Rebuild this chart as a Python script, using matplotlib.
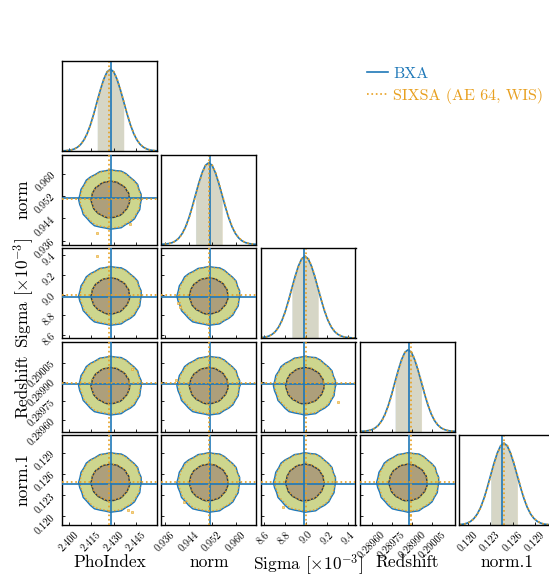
import numpy as np
import matplotlib.pyplot as plt
from matplotlib.lines import Line2D

plt.rcParams['font.family'] = 'serif'
plt.rcParams['font.serif'] = ['cmr10']
plt.rcParams['mathtext.fontset'] = 'cm'
plt.rcParams['axes.formatter.use_mathtext'] = True

# parameters of the fit
labels = ['PhoIndex', 'norm', r'Sigma [$\times10^{-3}$]', 'Redshift', 'norm.1']
ylabel_x = [-0.337, -0.337, -0.27, -0.337, -0.337]
xlabel_y = [-0.33, -0.33, -0.30, -0.33, -0.33]
# centres of the posterior clouds
bxa_center = [2.4278, 0.9508, 8.990, 0.289870, 0.12482]
sixsa_center = [2.4279, 0.9509, 8.992, 0.289872, 0.12486]
sigma = [0.0089, 0.00452, 0.124, 0.0000973, 0.00179]
# reference values marked by the cross-hairs
bxa_truth = [2.4282, 0.9512, 8.982, 0.28988, 0.12457]
sixsa_truth = [2.4267, 0.9508, 9.000, 0.28989, 0.12484]
ranges = [(2.3953, 2.4591), (0.93464, 0.96695), (8.571, 9.467),
          (0.289512, 0.290215), (0.11879, 0.13155)]
ticks = [[2.400, 2.415, 2.430, 2.445],
         [0.936, 0.944, 0.952, 0.960],
         [8.6, 8.8, 9.0, 9.2, 9.4],
         [0.28960, 0.28975, 0.28990, 0.29005],
         [0.120, 0.123, 0.126, 0.129]]
tick_labels = [['2.400', '2.415', '2.430', '2.445'],
               ['0.936', '0.944', '0.952', '0.960'],
               ['8.6', '8.8', '9.0', '9.2', '9.4'],
               ['0.28960', '0.28975', '0.28990', '0.29005'],
               ['0.120', '0.123', '0.126', '0.129']]

# 1D marginal (relative to peak) vs offset from the centre in units of sigma
z_grid = np.arange(-4.0, 4.01, 0.25)
profile = [0.0003, 0.0009, 0.003, 0.006, 0.012, 0.023, 0.044, 0.079, 0.134,
           0.214, 0.323, 0.457, 0.606, 0.751, 0.878, 0.968, 1.0, 0.968, 0.877,
           0.750, 0.605, 0.458, 0.325, 0.216, 0.135, 0.080, 0.045, 0.024,
           0.012, 0.006, 0.003, 0.0009, 0.0003]

# 2D credible contours: radius (in sigma) every 10 degrees
bxa_outer = [2.33, 2.36, 2.30, 2.38, 2.34, 2.31, 2.37, 2.40, 2.33, 2.36, 2.31, 2.35,
             2.29, 2.34, 2.38, 2.31, 2.36, 2.33, 2.40, 2.35, 2.30, 2.37, 2.32, 2.36,
             2.41, 2.33, 2.30, 2.36, 2.34, 2.39, 2.31, 2.35, 2.38, 2.32, 2.36, 2.30]
sixsa_outer = [2.27, 2.30, 2.25, 2.31, 2.28, 2.26, 2.30, 2.33, 2.27, 2.30, 2.26, 2.29,
               2.24, 2.28, 2.31, 2.26, 2.29, 2.27, 2.33, 2.29, 2.25, 2.31, 2.26, 2.29,
               2.34, 2.27, 2.25, 2.29, 2.28, 2.32, 2.26, 2.29, 2.31, 2.26, 2.29, 2.25]
bxa_inner = [1.45, 1.43, 1.47, 1.42, 1.46, 1.44, 1.41, 1.46, 1.43, 1.47, 1.42, 1.45,
             1.44, 1.41, 1.46, 1.43, 1.45, 1.42, 1.47, 1.44, 1.42, 1.46, 1.43, 1.45,
             1.41, 1.44, 1.47, 1.43, 1.45, 1.42, 1.46, 1.44, 1.41, 1.45, 1.43, 1.46]
sixsa_inner = [1.44, 1.43, 1.46, 1.42, 1.45, 1.44, 1.42, 1.45, 1.43, 1.46, 1.42, 1.44,
               1.44, 1.42, 1.45, 1.43, 1.44, 1.42, 1.46, 1.44, 1.42, 1.45, 1.43, 1.44,
               1.42, 1.44, 1.46, 1.43, 1.44, 1.42, 1.45, 1.44, 1.42, 1.44, 1.43, 1.45]

# isolated SIXSA islands outside the outer contour, (row, col, dx, dy) in sigma
speck_row = [1, 1, 2, 2, 3, 3, 4, 4, 4, 2, 3, 4, 4]
speck_col = [0, 0, 0, 1, 0, 2, 0, 0, 1, 1, 1, 2, 3]
speck_dx = [-1.0, 1.5, -1.0, -2.3, 1.6, 2.5, 1.35, 1.6, -1.9, -2.2, -2.5, -1.7, 0.1]
speck_dy = [-2.7, -2.0, 3.2, -0.6, 1.3, -1.3, -2.2, -2.4, -1.6, -0.9, 0.4, -2.0, -2.6]

BLUE = '#1f78b8'
ORANGE = '#e8a020'
DARK = '#2a3d50'

fig = plt.figure(figsize=(5.49, 5.77), dpi=100)
W, H = 549.0, 577.0
n = len(labels)
theta = np.deg2rad(np.arange(0, 360, 10))
z = np.array(z_grid)
prof = np.array(profile)


def ring(cx, cy, sx, sy, radii, closed=False):
    r = np.array(radii)
    if closed:
        r = np.append(r, r[0])
        t = np.append(theta, theta[0])
    else:
        t = theta
    return cx + r * np.cos(t) * sx, cy + r * np.sin(t) * sy


for i in range(n):
    for j in range(i + 1):
        left = (62 + 99.25 * j) / W
        bottom = 1 - (61 + 93.5 * i + 90) / H
        ax = fig.add_axes([left, bottom, 95 / W, 90 / H])
        ax.set_xlim(*ranges[j])
        ax.set_xticks(ticks[j])
        ax.tick_params(direction='in', length=2.5, width=0.6, labelsize=7.5)
        for sp in ax.spines.values():
            sp.set_linewidth(1.0)

        if i == j:
            for cen, col, ls in [(bxa_center[i], BLUE, '-'),
                                 (sixsa_center[i], ORANGE, ':')]:
                xs = cen + z * sigma[i]
                inside = np.abs(z) <= 1.0
                ax.fill_between(xs[inside], 0, prof[inside], color=col,
                                alpha=0.2, lw=0)
                ax.plot(xs, prof, color=col, ls=ls, lw=1.2)
            ax.axvline(bxa_truth[i], color=BLUE, lw=1.2)
            ax.axvline(sixsa_truth[i], color=ORANGE, ls=':', lw=1.2)
            ax.set_ylim(0, 1.1)
            ax.set_yticks([])
        else:
            sx, sy = sigma[j], sigma[i]
            bx, by = bxa_center[j], bxa_center[i]
            ox, oy = sixsa_center[j], sixsa_center[i]
            ax.fill(*ring(bx, by, sx, sy, bxa_outer), color='#a9cfe6', lw=0, zorder=1)
            ax.fill(*ring(ox, oy, sx, sy, sixsa_outer), color='#cdd68e', lw=0, zorder=2)
            ax.fill(*ring(ox, oy, sx, sy, sixsa_inner), color='#ad9f7b', lw=0, zorder=3)
            ax.plot(*ring(bx, by, sx, sy, bxa_outer, True), color=BLUE, lw=1.0, zorder=4)
            ax.plot(*ring(ox, oy, sx, sy, sixsa_outer, True), color=ORANGE, ls=':', lw=1.0, zorder=5)
            ax.plot(*ring(bx, by, sx, sy, bxa_inner, True), color=DARK, lw=1.0, zorder=4)
            ax.plot(*ring(ox, oy, sx, sy, sixsa_inner, True), color=ORANGE, ls=':', lw=1.0, zorder=5)
            for r_, c_, dx, dy in zip(speck_row, speck_col, speck_dx, speck_dy):
                if r_ == i and c_ == j:
                    ax.plot(ox + dx * sx, oy + dy * sy, marker='s', ms=1.6,
                            mfc='#eed98a', mec=ORANGE, mew=0.4, ls='none', zorder=5)
            ax.axvline(bxa_truth[j], color=BLUE, lw=1.2, zorder=6)
            ax.axhline(bxa_truth[i], color=BLUE, lw=1.2, zorder=6)
            ax.axvline(sixsa_truth[j], color=ORANGE, ls=':', lw=1.2, zorder=7)
            ax.axhline(sixsa_truth[i], color=ORANGE, ls=':', lw=1.2, zorder=7)
            ax.set_ylim(*ranges[i])
            ax.set_yticks(ticks[i])
            if j == 0:
                ax.set_yticklabels(tick_labels[i], rotation=45)
                ax.set_ylabel(labels[i], fontsize=12.5)
                ax.yaxis.set_label_coords(ylabel_x[i], 0.5)
            else:
                ax.set_yticklabels([])

        if i == n - 1:
            ax.set_xticklabels(tick_labels[j], rotation=45)
            ax.set_xlabel(labels[j], fontsize=12.5)
            ax.xaxis.set_label_coords(0.5, xlabel_y[j])
        else:
            ax.set_xticklabels([])

handles = [Line2D([], [], color=BLUE, lw=1.2),
           Line2D([], [], color=ORANGE, ls=':', lw=1.2)]
leg = fig.legend(handles, ['BXA', 'SIXSA (AE 64, WIS)'], loc='upper left',
                 bbox_to_anchor=(353 / W, 1 - 52 / H), frameon=False,
                 fontsize=11.5, handlelength=1.3, handletextpad=0.3,
                 labelspacing=0.45)
for txt, col in zip(leg.get_texts(), [BLUE, ORANGE]):
    txt.set_color(col)

fig.savefig('out.png', dpi=100)
